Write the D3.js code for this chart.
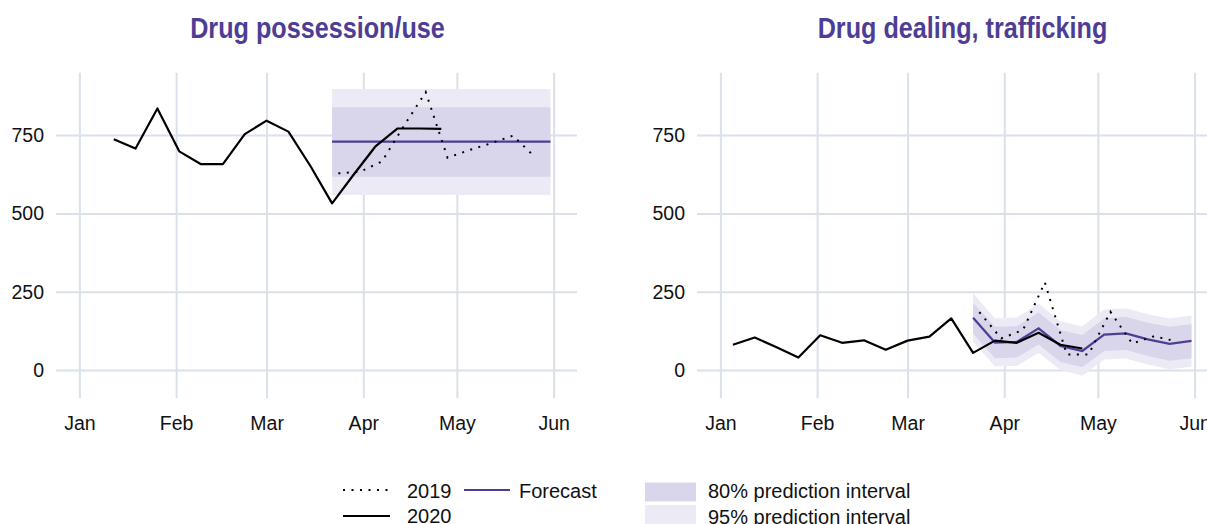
<!DOCTYPE html>
<html>
<head>
<meta charset="utf-8">
<script src="https://cdn.jsdelivr.net/npm/d3@7"></script>
<style>
body { margin: 0; background: #fff; }
svg text { font-family: "Liberation Sans", Arial, sans-serif; fill: #111; }
</style>
</head>
<body>
<div id="chart"></div>
<script>
// weekly series (dates on the 2020 calendar)
const possWeeks2020 = ["2020-01-12", "2020-01-19", "2020-01-26", "2020-02-02", "2020-02-09", "2020-02-16", "2020-02-23", "2020-03-01",
    "2020-03-08", "2020-03-15", "2020-03-22", "2020-03-29", "2020-04-05", "2020-04-12", "2020-04-19", "2020-04-26"];
const poss2020 = [737, 707, 835, 698, 657, 657, 753, 796, 761, 652, 532, 625, 715, 771, 771, 770];

const dealWeeks2020 = ["2020-01-05", "2020-01-12", "2020-01-19", "2020-01-26", "2020-02-02", "2020-02-09", "2020-02-16", "2020-02-23",
    "2020-03-01", "2020-03-08", "2020-03-15", "2020-03-22", "2020-03-29", "2020-04-05", "2020-04-12", "2020-04-19", "2020-04-26"];
const deal2020 = [81, 104, 73, 40, 111, 87, 95, 65, 94, 107, 165, 55, 94, 87, 119, 81, 69];

const weeks2019 = ["2020-03-24", "2020-03-31", "2020-04-07", "2020-04-14", "2020-04-21", "2020-04-28", "2020-05-05", "2020-05-12", "2020-05-19", "2020-05-26"];
const poss2019 = [628, 633, 666, 779, 887, 678, 702, 724, 748, 680];
const deal2019 = [185, 101, 128, 280, 50, 50, 186, 85, 108, 92];

const forecastWeeks = ["2020-03-22", "2020-03-29", "2020-04-05", "2020-04-12", "2020-04-19", "2020-04-26", "2020-05-03", "2020-05-10", "2020-05-17", "2020-05-24", "2020-05-31"];
const possForecast = [729, 729, 729, 729, 729, 729, 729, 729, 729, 729, 729];
const possLo80 = [617, 617, 617, 617, 617, 617, 617, 617, 617, 617, 617];
const possHi80 = [839, 839, 839, 839, 839, 839, 839, 839, 839, 839, 839];
const possLo95 = [559, 559, 559, 559, 559, 559, 559, 559, 559, 559, 559];
const possHi95 = [897, 897, 897, 897, 897, 897, 897, 897, 897, 897, 897];

const dealForecast = [167, 88, 90, 133, 77, 61, 113, 117, 98, 84, 93];
const dealLo80 = [117, 38, 40, 82, 26, 9, 61, 64, 45, 30, 38];
const dealHi80 = [215, 138, 140, 184, 128, 112, 165, 170, 151, 138, 147];
const dealLo95 = [90, 12, 13, 55, 0, -18, 34, 37, 18, 3, 11];
const dealHi95 = [245, 165, 168, 212, 155, 140, 193, 197, 178, 165, 174];

const monthTicks = ["2020-01-01", "2020-02-01", "2020-03-01", "2020-04-01", "2020-05-01", "2020-06-01"];
const yTicks = [0, 250, 500, 750];

const parseDate = d3.timeParse("%Y-%m-%d");
const purple = "#4e3d94";
const fill80 = "#d9d5ea";
const fill95 = "#ecebf5";
const gridColor = "#dae1e9";

const svg = d3.select("#chart")
    .append("svg")
    .attr("width", 1207)
    .attr("height", 524);

const panelTop = 72.7, panelBottom = 398.3;
const y = d3.scaleLinear().domain([-90, 949]).range([panelBottom, panelTop]);

function zip(dates, ...cols) {
    return dates.map((d, i) => ({ date: parseDate(d), v: cols.map(c => c[i]) }));
}

function drawPanel(p) {
    const x = d3.scaleTime()
        .domain([new Date(2019, 11, 24, 12), new Date(2020, 5, 8, 12)])
        .range([p.left, p.right]);
    const g = svg.append("g");

    // grid + axes
    const yAxis = d3.axisLeft(y).tickValues(yTicks).tickSize(-(p.right - p.left)).tickPadding(12);
    const gy = g.append("g").attr("transform", `translate(${p.left},0)`).call(yAxis);
    const xAxis = d3.axisBottom(x).tickValues(monthTicks.map(parseDate))
        .tickFormat(d3.timeFormat("%b")).tickSize(-(panelBottom - panelTop)).tickPadding(18);
    const gx = g.append("g").attr("transform", `translate(0,${panelBottom})`).call(xAxis);
    [gx, gy].forEach(a => {
        a.select(".domain").remove();
        a.selectAll(".tick line").attr("stroke", gridColor).attr("stroke-width", 2);
        a.selectAll(".tick text").style("font-size", "19.5px").attr("fill", "#111");
    });

    // prediction intervals
    const fc = zip(forecastWeeks, p.forecast, p.lo80, p.hi80, p.lo95, p.hi95);
    g.append("path").datum(fc)
        .attr("fill", fill95)
        .attr("d", d3.area().x(d => x(d.date)).y0(d => y(d.v[3])).y1(d => y(d.v[4])));
    g.append("path").datum(fc)
        .attr("fill", fill80)
        .attr("d", d3.area().x(d => x(d.date)).y0(d => y(d.v[1])).y1(d => y(d.v[2])));

    const line = d3.line().x(d => x(d.date)).y(d => y(d.v[0]));

    g.append("path").datum(fc)
        .attr("fill", "none")
        .attr("stroke", purple)
        .attr("stroke-width", 2.2)
        .attr("d", line);

    g.append("path").datum(zip(weeks2019, p.s2019))
        .attr("fill", "none")
        .attr("stroke", "#000")
        .attr("stroke-width", 2)
        .attr("stroke-dasharray", "2 6.5")
        .attr("d", line);

    g.append("path").datum(zip(p.weeks2020, p.s2020))
        .attr("fill", "none")
        .attr("stroke", "#000")
        .attr("stroke-width", 2.2)
        .attr("stroke-linejoin", "round")
        .attr("d", line);

    // title is set in a condensed bold face; squeeze the regular bold horizontally
    g.append("text")
        .attr("transform", `translate(${(p.left + p.right) / 2 + p.titleShift},38) scale(0.84,1)`)
        .attr("text-anchor", "middle")
        .style("font-size", "30px")
        .style("font-weight", "bold")
        .style("fill", purple)
        .text(p.title);
}

drawPanel({
    title: "Drug possession/use", left: 56, right: 577, titleShift: 1,
    weeks2020: possWeeks2020, s2020: poss2020, s2019: poss2019,
    forecast: possForecast, lo80: possLo80, hi80: possHi80, lo95: possLo95, hi95: possHi95
});
drawPanel({
    title: "Drug dealing, trafficking", left: 697, right: 1218, titleShift: 5,
    weeks2020: dealWeeks2020, s2020: deal2020, s2019: deal2019,
    forecast: dealForecast, lo80: dealLo80, hi80: dealHi80, lo95: dealLo95, hi95: dealHi95
});

// legend
const legend = svg.append("g");
legend.append("line").attr("x1", 343).attr("x2", 390).attr("y1", 490).attr("y2", 490)
    .attr("stroke", "#000").attr("stroke-width", 2).attr("stroke-dasharray", "2 6.5");
legend.append("line").attr("x1", 343).attr("x2", 390).attr("y1", 516).attr("y2", 516)
    .attr("stroke", "#000").attr("stroke-width", 2.2);
legend.append("line").attr("x1", 464).attr("x2", 510).attr("y1", 490).attr("y2", 490)
    .attr("stroke", purple).attr("stroke-width", 2.2);
legend.append("rect").attr("x", 645).attr("y", 482.5).attr("width", 51).attr("height", 19).attr("fill", fill80);
legend.append("rect").attr("x", 645).attr("y", 505).attr("width", 51).attr("height", 19).attr("fill", fill95);

const legendTexts = [["2019", 407, 498], ["2020", 407, 523], ["Forecast", 519, 498],
    ["80% prediction interval", 708, 498], ["95% prediction interval", 708, 524]];
legend.selectAll("text.lab").data(legendTexts).enter().append("text")
    .attr("class", "lab")
    .attr("x", d => d[1])
    .attr("y", d => d[2])
    .style("font-size", "20px")
    .text(d => d[0]);
</script>
</body>
</html>
